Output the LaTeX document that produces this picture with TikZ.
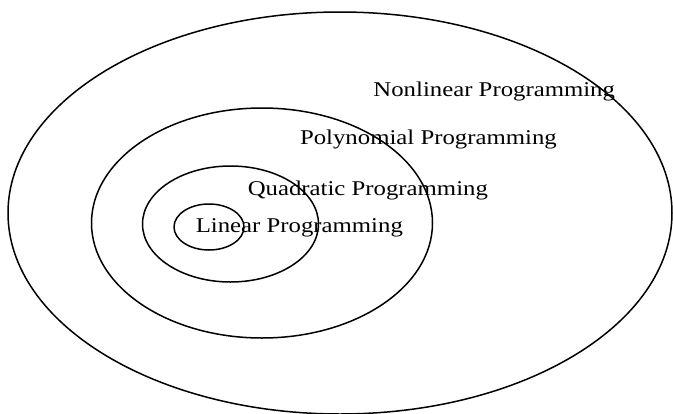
\documentclass[tikz,border=0pt]{standalone}
\usepackage{fontspec}
\setmainfont{Liberation Serif}[FakeStretch=1.18]
\begin{document}
\begin{tikzpicture}[x=1pt, y=-1pt, line width=1.5pt, line join=round, line cap=round, font=\fontsize{21}{25}\selectfont]
	\useasboundingbox (0,0) rectangle (673,413);
	\path
	(340,213) coordinate (N)
	(262,223) coordinate (P)
	(230.5,224) coordinate (Q)
	(209,227) coordinate (L)
	;
	\draw 
	(N) ellipse [x radius=332pt, y radius=201pt]
	(P) ellipse [x radius=170.5pt, y radius=115pt]
	(Q) ellipse [x radius=88pt, y radius=58pt]
	(L) ellipse [x radius=35pt, y radius=23pt]
	;
	\foreach \n/\p/\t in {nonlinear/{(372.7,96.5)}/Nonlinear, polynomial/{(299.3,144)}/Polynomial, quadratic/{(247,195)}/Quadratic, linear/{(195,232.7)}/Linear}
	\node[anchor=base west, inner sep=0pt] (\n) at \p {\t\ Programming};
\end{tikzpicture}
\end{document}
